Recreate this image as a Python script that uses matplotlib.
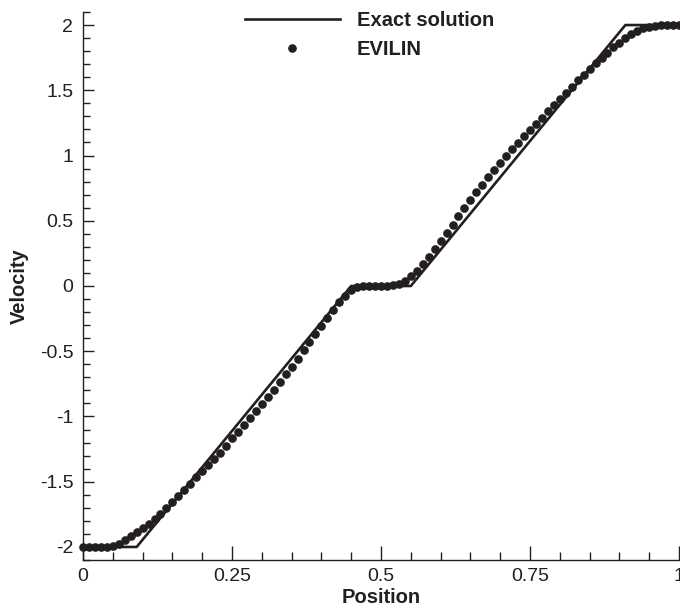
import numpy as np
import matplotlib
matplotlib.use("Agg")
import matplotlib.pyplot as plt
from matplotlib.ticker import MultipleLocator, FixedLocator, FixedFormatter

plt.rcParams['font.family'] = ['Liberation Sans', 'DejaVu Sans']
plt.rcParams['axes.unicode_minus'] = False

ink = '#231f20'

# exact solution (piecewise linear)
exact_x = [0.0, 0.09, 0.45, 0.55, 0.91, 1.0]
exact_u = [-2.0, -2.0, 0.0, 0.0, 2.0, 2.0]

# EVILIN numerical solution, one value per cell
evilin_x = np.linspace(0.0, 1.0, 101)
evilin_u = [
    -2.0, -2.0, -2.0, -2.0, -2.0, -1.995, -1.975, -1.946, -1.916, -1.885,
    -1.854, -1.822, -1.788, -1.747, -1.700, -1.652, -1.607, -1.562, -1.515, -1.467,
    -1.420, -1.374, -1.326, -1.277, -1.224, -1.167, -1.118, -1.066, -1.013, -0.960,
    -0.906, -0.852, -0.794, -0.735, -0.677, -0.618, -0.556, -0.494, -0.432, -0.369,
    -0.307, -0.245, -0.184, -0.125, -0.075, -0.033, -0.011, -0.003, 0.0, 0.0,
    0.0, 0.002, 0.005, 0.015, 0.040, 0.077, 0.117, 0.165, 0.220, 0.280,
    0.343, 0.407, 0.470, 0.533, 0.596, 0.658, 0.720, 0.777, 0.833, 0.888,
    0.942, 0.996, 1.048, 1.099, 1.149, 1.198, 1.245, 1.290, 1.340, 1.387,
    1.436, 1.481, 1.527, 1.576, 1.618, 1.660, 1.706, 1.748, 1.788, 1.828,
    1.865, 1.898, 1.929, 1.956, 1.975, 1.987, 1.994, 1.998, 2.0, 2.0,
    2.0,
]

xticks = [0, 0.25, 0.5, 0.75, 1.0]
xtick_labels = ['0', '0.25', '0.5', '0.75', '1']
yticks = [-2, -1.5, -1, -0.5, 0, 0.5, 1, 1.5, 2]
ytick_labels = ['-2', '-1.5', '-1', '-0.5', '0', '0.5', '1', '1.5', '2']

fig = plt.figure(figsize=(6.8, 6.16), dpi=100)
ax = fig.add_axes([83 / 680, 1 - 560 / 616, 596 / 680, 548 / 616])

ax.plot(exact_x, exact_u, color=ink, lw=1.9, label='Exact solution', zorder=2)
ax.plot(evilin_x, evilin_u, ls='none', marker='o', ms=5.2, color=ink,
        mec=ink, label='EVILIN', zorder=3, clip_on=False)

ax.set_xlim(0, 1)
ax.set_ylim(-2.1, 2.1)

for s in ['top', 'right']:
    ax.spines[s].set_visible(False)
for s in ['left', 'bottom']:
    ax.spines[s].set_color(ink)
    ax.spines[s].set_linewidth(1.0)

ax.xaxis.set_major_locator(FixedLocator(xticks))
ax.xaxis.set_major_formatter(FixedFormatter(xtick_labels))
ax.xaxis.set_minor_locator(MultipleLocator(0.05))
ax.yaxis.set_major_locator(FixedLocator(yticks))
ax.yaxis.set_major_formatter(FixedFormatter(ytick_labels))
ax.yaxis.set_minor_locator(MultipleLocator(0.1))

ax.tick_params(axis='x', which='major', direction='in', length=10, width=1.0,
               color=ink, labelsize=14, labelcolor=ink, pad=6)
ax.tick_params(axis='x', which='minor', direction='in', length=6, width=1.0, color=ink)
ax.tick_params(axis='y', which='major', direction='in', length=8, width=1.0,
               color=ink, labelsize=14, labelcolor=ink, pad=7)
ax.tick_params(axis='y', which='minor', direction='in', length=5, width=1.0, color=ink)

ax.set_xlabel('Position', fontsize=14.5, fontweight='bold', color=ink, labelpad=2)
ax.set_ylabel('Velocity', fontsize=14.5, fontweight='bold', color=ink, labelpad=8)

leg = ax.legend(loc='upper left', bbox_to_anchor=(245 / 680, 1 - 11 / 616),
                bbox_transform=fig.transFigure, frameon=False, numpoints=1,
                handlelength=4.7, handletextpad=0.85, labelspacing=0.5,
                borderpad=0, borderaxespad=0,
                prop={'weight': 'bold', 'size': 14.5})
for t in leg.get_texts():
    t.set_color(ink)

fig.savefig('out.png', dpi=100)
